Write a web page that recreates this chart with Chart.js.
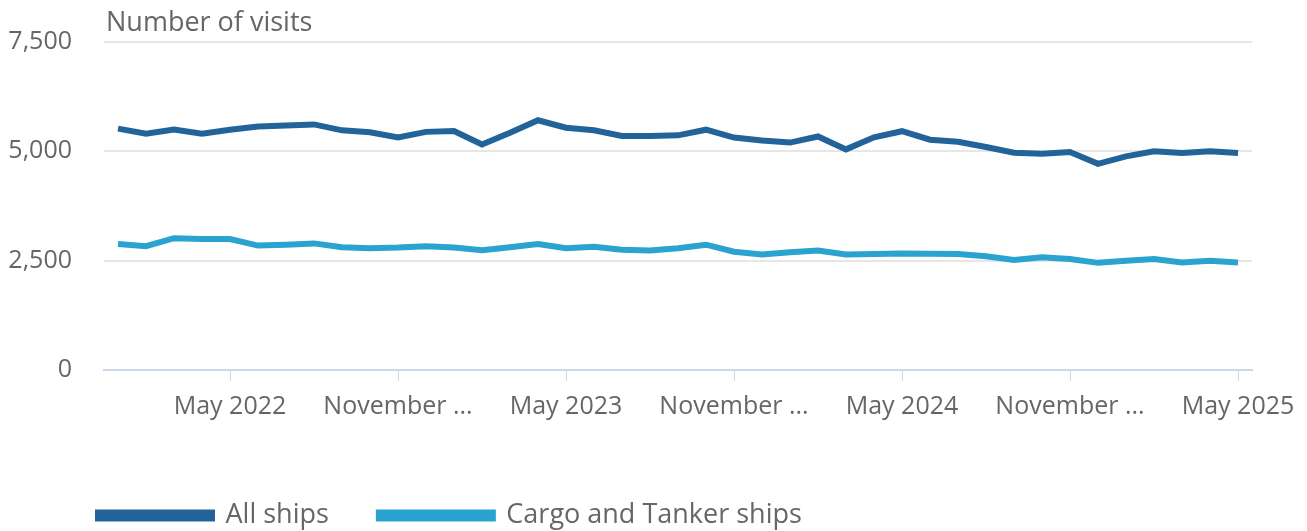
<!DOCTYPE html>
<html>
<head>
<meta charset="utf-8">
<script src="https://cdn.jsdelivr.net/npm/chart.js@4.4.1/dist/chart.umd.min.js"></script>
<style>
  html, body { margin: 0; padding: 0; background: #fff; }
  #wrap { width: 1307px; height: 531px; position: relative; }
</style>
</head>
<body>
<div id="wrap"><canvas id="visits"></canvas></div>
<script>
const months = [
  "January 2022", "February 2022", "March 2022", "April 2022", "May 2022", "June 2022",
  "July 2022", "August 2022", "September 2022", "October 2022", "November 2022", "December 2022",
  "January 2023", "February 2023", "March 2023", "April 2023", "May 2023", "June 2023",
  "July 2023", "August 2023", "September 2023", "October 2023", "November 2023", "December 2023",
  "January 2024", "February 2024", "March 2024", "April 2024", "May 2024", "June 2024",
  "July 2024", "August 2024", "September 2024", "October 2024", "November 2024", "December 2024",
  "January 2025", "February 2025", "March 2025", "April 2025", "May 2025"
];

const allShips = [
  5520, 5405, 5500, 5405, 5495, 5570, 5590, 5615, 5480, 5435, 5315, 5445, 5465, 5155,
  5425, 5710, 5540, 5480, 5350, 5350, 5365, 5495, 5315, 5250, 5200, 5340, 5045, 5320,
  5460, 5265, 5220, 5100, 4970, 4945, 4985, 4715, 4885, 5000, 4960, 5000, 4960
];

const cargoTanker = [
  2880, 2830, 3015, 2995, 2995, 2845, 2865, 2895, 2805, 2785, 2800, 2830, 2800, 2740,
  2805, 2880, 2785, 2820, 2750, 2730, 2785, 2865, 2705, 2640, 2690, 2730, 2640, 2655,
  2665, 2660, 2655, 2600, 2515, 2580, 2540, 2450, 2500, 2540, 2460, 2500, 2460
];

const yTicks = [0, 2500, 5000, 7500];

const GREY = "#666666";
const FONT = "'Open Sans', sans-serif";

// axis title drawn above the plot, like the original
const axisTitle = {
  id: "axisTitle",
  afterDraw(chart) {
    const c = chart.ctx;
    c.save();
    c.font = "27px " + FONT;
    c.fillStyle = GREY;
    c.textBaseline = "middle";
    c.textAlign = "left";
    c.fillText("Number of visits", chart.chartArea.left + 2, 23);
    c.restore();
  }
};

// put the legend where the original has it
const legendShift = {
  id: "legendShift",
  beforeDraw(chart) {
    if (chart.legend) {
      chart.legend.left = 48;
      chart.legend.top = 452;
    }
  }
};

const ctx = document.getElementById("visits").getContext("2d");

new Chart(ctx, {
  type: "line",
  data: {
    labels: months,
    datasets: [
      {
        label: "All ships",
        data: allShips,
        borderColor: "#22639a",
        backgroundColor: "#22639a",
        borderWidth: 6,
        pointRadius: 0,
        tension: 0
      },
      {
        label: "Cargo and Tanker ships",
        data: cargoTanker,
        borderColor: "#2aa3d0",
        backgroundColor: "#2aa3d0",
        borderWidth: 6,
        pointRadius: 0,
        tension: 0
      }
    ]
  },
  options: {
    responsive: true,
    maintainAspectRatio: false,
    animation: false,
    layout: { padding: { top: 42, right: 55, left: 0, bottom: 0 } },
    plugins: {
      title: { display: false },
      tooltip: { enabled: false },
      legend: {
        position: "bottom",
        align: "start",
        labels: {
          boxWidth: 114,
          boxHeight: 6,
          padding: 50,
          color: GREY,
          font: { family: FONT, size: 27 }
        }
      }
    },
    scales: {
      x: {
        offset: true,
        afterBuildTicks(scale) {
          scale.ticks = scale.ticks.filter(t => t.value % 6 === 4);
        },
        afterFit(scale) { scale.height = 74; },
        grid: {
          drawOnChartArea: false,
          drawTicks: true,
          tickLength: 11,
          color: "#ccd6eb",
          offset: false
        },
        border: { color: "#ccd6eb", width: 2 },
        ticks: {
          autoSkip: false,
          maxRotation: 0,
          padding: 11,
          color: GREY,
          font: { family: FONT, size: 25 },
          callback(value) {
            const l = months[value];
            return l.length > 9 ? l.slice(0, 8) + " ..." : l;
          }
        }
      },
      y: {
        min: 0,
        max: 7500,
        afterBuildTicks(scale) {
          scale.ticks = yTicks.map(v => ({ value: v }));
        },
        afterFit(scale) {
          scale.width = 104;
          scale.paddingTop = 0;
          scale.paddingBottom = 0;
        },
        grid: { color: "#e6e6e6", lineWidth: 2, drawTicks: false },
        border: { display: false },
        ticks: {
          padding: 32,
          color: GREY,
          font: { family: FONT, size: 25 },
          callback: v => v.toLocaleString("en-US")
        }
      }
    }
  },
  plugins: [axisTitle, legendShift]
});
</script>
</body>
</html>
